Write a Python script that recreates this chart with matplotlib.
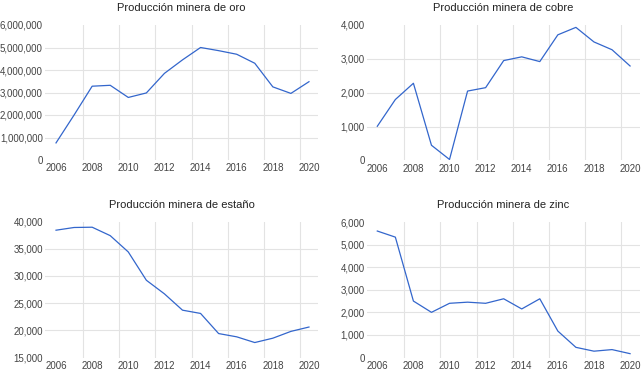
import matplotlib
matplotlib.use('Agg')
import matplotlib.pyplot as plt
from matplotlib.ticker import FuncFormatter

years = list(range(2006, 2021))

oro = [760000, 2000000, 3280000, 3320000, 2780000, 2980000, 3850000, 4450000,
       5000000, 4860000, 4700000, 4300000, 3250000, 2960000, 3480000]
cobre = [1010, 1800, 2280, 450, 30, 2050, 2150, 2950, 3060, 2920, 3710, 3930,
         3500, 3270, 2790]
estano = [38400, 38900, 38950, 37400, 34400, 29200, 26700, 23700, 23100, 19400,
          18800, 17750, 18550, 19800, 20600]
zinc = [5600, 5330, 2500, 2000, 2400, 2450, 2400, 2600, 2150, 2600, 1170, 450,
        280, 350, 170]

titles = ['Producción minera de oro', 'Producción minera de cobre',
          'Producción minera de estaño', 'Producción minera de zinc']
yticks = [[0, 1000000, 2000000, 3000000, 4000000, 5000000, 6000000],
          [0, 1000, 2000, 3000, 4000],
          [15000, 20000, 25000, 30000, 35000, 40000],
          [0, 1000, 2000, 3000, 4000, 5000, 6000]]
series = [oro, cobre, estano, zinc]

W, H = 641, 372
# plot boxes in pixels: left, right, top, bottom
boxes = [(45, 318, 25, 160), (367, 640, 25, 160.5),
         (45, 318, 221.5, 357.5), (367, 640, 222, 357.5)]
xlims = [(2005.39, 2020.5), (2005.43, 2020.55),
         (2005.39, 2020.5), (2005.43, 2020.55)]

fig = plt.figure(figsize=(W / 100, H / 100), dpi=100)
plt.rcParams['font.family'] = ['Liberation Sans', 'DejaVu Sans']

fmt = FuncFormatter(lambda v, p: '{:,.0f}'.format(v))

for i in range(4):
    l, r, t, b = boxes[i]
    ax = fig.add_axes([l / W, 1 - b / H, (r - l) / W, (b - t) / H])
    ax.plot(years, series[i], color='#3366cc', lw=0.9, zorder=3)
    ax.set_xlim(*xlims[i])
    yt = yticks[i]
    ax.set_ylim(yt[0], yt[-1])
    ax.set_yticks(yt)
    ax.yaxis.set_major_formatter(fmt)
    ax.set_xticks(range(2006, 2021, 2))
    for s in ax.spines.values():
        s.set_visible(False)
    ax.tick_params(length=0, labelsize=7, colors='#444444')
    ax.tick_params(axis='x', pad=2.5)
    ax.tick_params(axis='y', pad=1.5)
    # grid: horizontal lines (not at top/bottom), vertical at half years
    for v in yt[1:-1]:
        ax.axhline(v, color='#e3e3e3', lw=0.8, zorder=1)
    for g in range(2007, 2020, 2):
        ax.axvline(g + 0.5, color='#e3e3e3', lw=0.8, zorder=1)
    ax.set_title(titles[i], fontsize=8, color='#222222', pad=10)

plt.savefig('out.png', dpi=100)
